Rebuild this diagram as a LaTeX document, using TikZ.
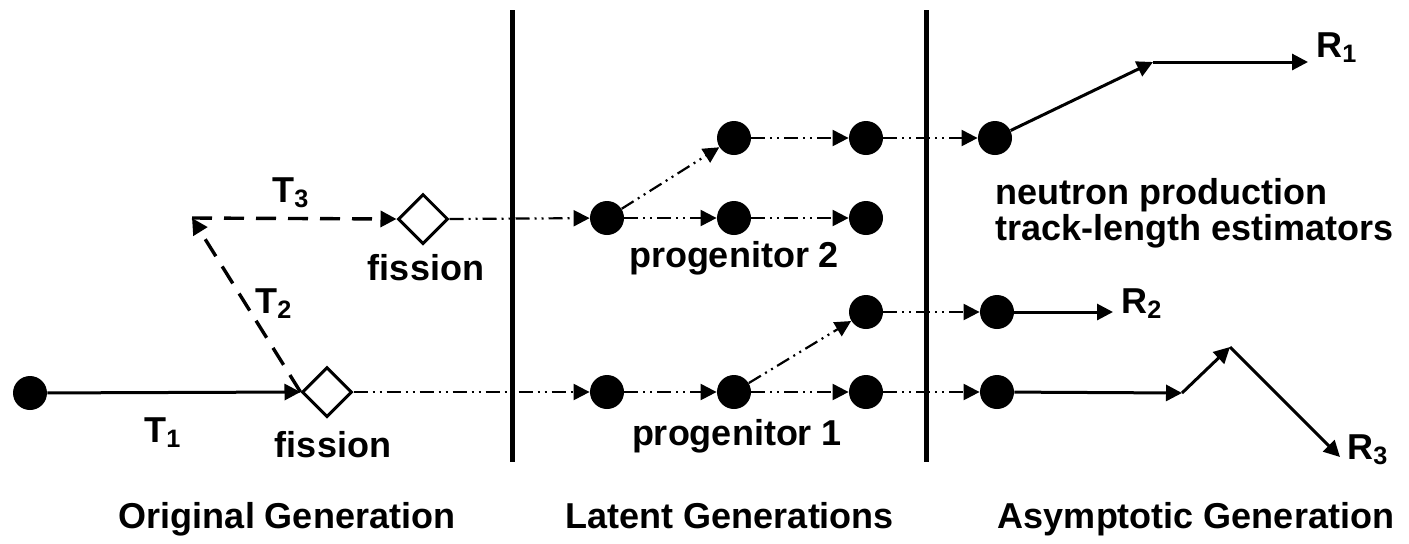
\documentclass[tikz,border=0pt]{standalone}
\usepackage{fontspec}
\setmainfont{Liberation Sans}
\usetikzlibrary{positioning,arrows.meta,shapes.geometric}

\begin{document}
\begin{tikzpicture}[x=0.5pt,y=-0.5pt]
\tikzstyle{vertex}=[circle,fill=black,minimum size=17pt,inner sep=0pt]
\tikzstyle{fis}=[diamond,draw=black,line width=1.5pt,fill=white,minimum size=25pt,inner sep=0pt]
\tikzstyle{lbl}=[font=\fontsize{18}{20}\selectfont\bfseries,inner sep=0pt]
\tikzstyle{tip}=[-{Triangle[length=8pt,width=8pt]}]
\tikzstyle{track}=[tip,line width=1.5pt]
\tikzstyle{scat}=[tip,line width=1.7pt,dash pattern=on 10pt off 6pt]
\tikzstyle{gen}=[tip,line width=1.1pt,dash pattern=on 7pt off 2.5pt on 1pt off 2.5pt on 1pt off 2.5pt]
\tikzstyle{bar}=[line width=2.5pt]
    \useasboundingbox (0,0) rectangle (1409,543);
    % generation boundaries
    \coordinate (b1t) at (512,10);
    \coordinate (b1b) at (512,462);
    \coordinate (b2t) at (926,10);
    \coordinate (b2b) at (926,462);
    \draw[bar] (b1t) to (b1b);
    \draw[bar] (b2t) to (b2b);
    % original generation
    \node[vertex] (src) at (30,393) {};
    \node[fis] (f1) at (327,392) {};
    \node[fis] (f2) at (423,219) {};
    \coordinate (c) at (192,218);
    \draw[track] (src) to (f1.west);
    \draw[scat] (f1.west) to (c);
    \draw[scat] (c) to (f2.west);
    % latent generations
    \node[vertex] (p1) at (607,392) {};
    \node[vertex] (p1a) at (734,392) {};
    \node[vertex] (p1b) at (866,392) {};
    \node[vertex] (p1c) at (866,312) {};
    \node[vertex] (p2) at (607,218) {};
    \node[vertex] (p2a) at (734,218) {};
    \node[vertex] (p2b) at (866,218) {};
    \node[vertex] (p2c) at (734,138) {};
    \node[vertex] (p2d) at (866,138) {};
    % asymptotic generation
    \node[vertex] (a1) at (995,138) {};
    \node[vertex] (a2) at (997,312) {};
    \node[vertex] (a3) at (997,392) {};
    \draw[gen] (f1.east) to (p1);
    \draw[gen] (p1) to (p1a);
    \draw[gen] (p1a) to (p1b);
    \draw[gen] (p1a) to (p1c);
    \draw[gen] (p1b) to (a3);
    \draw[gen] (p1c) to (a2);
    \draw[gen] (f2.east) to (p2);
    \draw[gen] (p2) to (p2a);
    \draw[gen] (p2a) to (p2b);
    \draw[gen] (p2) to (p2c);
    \draw[gen] (p2c) to (p2d);
    \draw[gen] (p2d) to (a1);
    % estimator tracks
    \coordinate (r1k) at (1153,62);
    \coordinate (r1) at (1308,62);
    \coordinate (r2) at (1113,312);
    \coordinate (r3k) at (1182,393);
    \coordinate (r3m) at (1230,347);
    \coordinate (r3) at (1340,457);
    \draw[track] (a1) to (r1k);
    \draw[track] (r1k) to (r1);
    \draw[track] (a2) to (r2);
    \draw[track] (a3) to (r3k);
    \draw[track] (r3k) to (r3m);
    \draw[track] (r3m) to (r3);
    % labels
    \node[lbl,anchor=base] (t1) at (163,442) {T\textsubscript{1}};
    \node[lbl,anchor=base] (t2) at (274,313) {T\textsubscript{2}};
    \node[lbl,anchor=base] (t3) at (291,202) {T\textsubscript{3}};
    \node[lbl,anchor=base] (fl1) at (333,457) {fission};
    \node[lbl,anchor=base] (fl2) at (426,280) {fission};
    \node[lbl,anchor=base] (pg2) at (734,267) {progenitor 2};
    \node[lbl,anchor=base] (pg1) at (737,445) {progenitor 1};
    \node[lbl,anchor=base west] (rl1) at (1316,57) {R\textsubscript{1}};
    \node[lbl,anchor=base west] (rl2) at (1121,313) {R\textsubscript{2}};
    \node[lbl,anchor=base west] (rl3) at (1347,459) {R\textsubscript{3}};
    \node[lbl,anchor=base west] (np) at (995,204) {neutron production};
    \node[lbl,anchor=base west] (tl) at (995,240) {track-length estimators};
    \node[lbl,anchor=base] (og) at (287,528) {Original Generation};
    \node[lbl,anchor=base] (lg) at (730,528) {Latent Generations};
    \node[lbl,anchor=base] (ag) at (1196,528) {Asymptotic Generation};
  \end{tikzpicture}
\end{document}
